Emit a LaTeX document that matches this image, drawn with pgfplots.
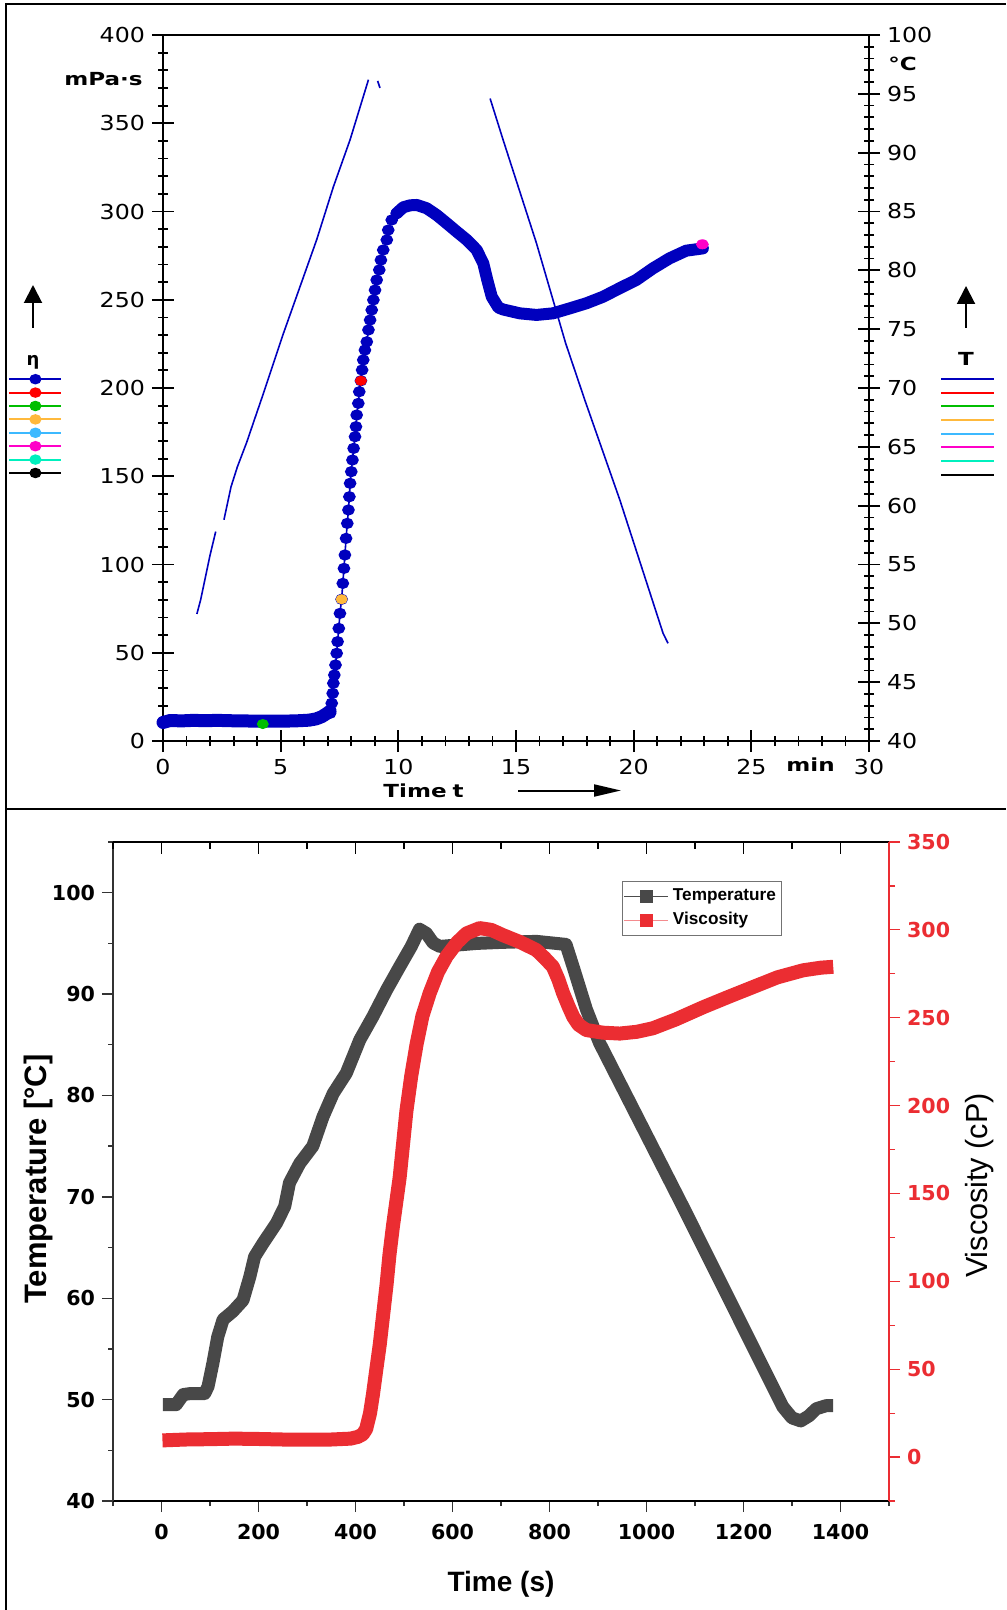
\documentclass[border=0pt]{standalone}
\usepackage{pgfplots}
\pgfplotsset{compat=1.18}
\usepackage{pgfplotstable}
\usepackage{fontspec}
\usetikzlibrary{arrows.meta}
\setmainfont{DejaVu Sans}
\newfontfamily\topnum{DejaVu Sans}[FakeStretch=1.15]
\newfontfamily\toplab{DejaVu Sans Bold}[FakeStretch=1.28]
\newfontfamily\botnum{DejaVu Sans Bold}
\newfontfamily\arialb{Liberation Sans Bold}
\newfontfamily\arial{Liberation Sans}

\definecolor{etablue}{RGB}{0,0,190}
\definecolor{tgray}{RGB}{72,72,72}
\definecolor{vred}{RGB}{235,45,50}
\definecolor{lgreen}{RGB}{0,190,0}
\definecolor{lorange}{RGB}{255,185,60}
\definecolor{lsky}{RGB}{60,185,255}
\definecolor{lmag}{RGB}{255,0,200}
\definecolor{lteal}{RGB}{0,240,190}

% ---- upper panel: temperature (degC) vs time (min) ----
\pgfplotstableread{
t T
1.44 50.8
1.6 52.0
1.8 53.9
2.0 55.8
2.24 57.8
nan nan
2.59 58.8
2.89 61.6
3.16 63.3
3.56 65.4
3.9 67.4
4.26 69.5
5.11 74.6
5.82 78.6
6.53 82.6
7.24 87.1
7.95 91.1
8.73 96.2
nan nan
9.12 96.1
9.22 95.5
nan nan
13.9 94.6
14.45 91.1
15.87 82.3
17.11 73.8
17.92 69.0
19.41 60.5
21.25 49.15
21.46 48.3
}\tempTop

% ---- upper panel: viscosity (mPa s) ----
\pgfplotstableread{
t eta
0 10.5
0.3 11.6
0.8 11.4
1.3 11.7
1.8 11.5
2.3 11.7
2.8 11.5
3.3 11.4
3.8 11.3
4.3 11.2
4.8 11.3
5.3 11.3
5.8 11.5
6.2 11.8
6.5 12.5
6.75 13.8
6.95 15.5
7.1 17
}\viscLow

\pgfplotstableread{
t eta
7.10 15.7
7.17 21.4
7.21 27.0
7.24 32.7
7.28 37.4
7.33 43.1
7.38 49.7
7.42 56.3
7.47 63.8
7.52 72.3
7.59 80.3
7.64 89.3
7.69 97.8
7.73 105.4
7.78 114.8
7.83 123.3
7.88 130.9
7.92 138.4
7.95 146
8.00 152.6
8.05 159.2
8.10 165.8
8.16 172.4
8.20 178.1
8.23 184.7
8.30 191.3
8.34 197.9
8.41 204.1
8.46 210.2
8.51 215.9
8.58 221.5
8.66 226.2
8.73 232.9
8.80 238.5
8.87 244.2
8.94 249.9
9.01 255.5
9.08 261.2
9.19 266.9
9.26 272.5
9.36 278.2
9.51 283.9
9.57 289.5
9.72 295.2
9.93 299
}\viscRise

\pgfplotstableread{
t eta
9.93 299
10.21 302.4
10.5 303.5
10.78 303.7
11.21 301.8
11.63 298
12.06 293.3
12.48 288.6
12.91 283.9
13.33 278.2
13.61 270.6
13.78 261.2
13.97 251.7
14.25 245.6
14.45 244.5
15.16 242.3
15.87 241.4
16.57 242.3
17.28 245.1
17.99 248
18.70 251.7
19.40 256.5
20.11 261.2
20.82 267.8
21.53 273.5
22.23 277.8
22.94 279.1
}\viscHigh

% ---- lower panel ----
\pgfplotstableread{
t T
3 49.5
30 49.5
45 50.5
60 50.6
89 50.6
96 51.3
106 53.6
116 56.2
127 57.9
147 58.7
168 59.8
182 62.1
192 64.1
209 65.4
237 67.4
254 69.05
264 71.4
285 73.3
312 75.0
333 77.9
354 80.2
381 82.2
409 85.5
436 87.8
464 90.4
491 92.7
515 94.7
532 96.4
546 96.0
560 95.05
574 94.7
650 95.0
700 95.1
773 95.2
834 94.9
850 92.5
876 88.5
903 85.2
1075 69.05
1281 49.3
1300 48.2
1318 47.9
1335 48.4
1350 49.1
1370 49.4
1385 49.4
}\tempBot

\pgfplotstableread{
t V
2 9.5
50 10
100 10.2
150 10.5
200 10.3
250 10
300 10
350 10
390 10.5
405 11.5
415 13
422 16
430 25
436 35.7
443 50
450 64
457 81
464 98
470 115
477 131
484 145
491 159
498 178
505 197
515 217
526 235
538 251
553 264
570 276
588 285
610 293
629 298
656 301
680 300
704 297
740 293
773 288.5
790 284
807 279
818 272
828 264
840 256
849 250.5
860 246
876 243
910 241.5
945 241
980 242
1013 244
1060 249
1117 256
1170 262
1220 267.5
1270 273
1323 277
1360 278.5
1385 279
}\viscBot

\begin{document}
\begin{tikzpicture}
\begin{scope}[x=0.5pt,y=-0.5pt]
  \path[use as bounding box] (0,0) rectangle (1006,1610);
  \draw[line width=1.3pt] (6,1610) -- (6,4) -- (1006,4);
  \draw[line width=1.3pt] (6,809) -- (1006,809);
  % upper panel texts and arrows
  \node[anchor=base east, inner sep=0pt, font=\toplab\fontsize{9}{10}\selectfont] at (143,86) {mPa·s};
  \node[anchor=base west, inner sep=0pt, font=\toplab\fontsize{9}{10}\selectfont] at (888,71) {°C};
  \node[anchor=base west, inner sep=0pt, font=\toplab\fontsize{9}{10}\selectfont] at (786,771) {min};
  \node[anchor=base west, inner sep=0pt, font=\toplab\fontsize{9}{10}\selectfont] at (383,797) {Time\,\,t};
  \node[anchor=base, inner sep=0pt, font=\botnum\fontsize{9}{10}\selectfont] at (33,365) {η};
  \node[anchor=base, inner sep=0pt, font=\toplab\fontsize{9}{10}\selectfont] at (966,365) {T};
  \draw[line width=1pt, -{Triangle[length=9pt, width=9pt]}] (33,328) -- (33,285);
  \draw[line width=1pt, -{Triangle[length=9pt, width=9pt]}] (966,328) -- (966,286);
  \draw[line width=1pt, -{Triangle[length=13.5pt, width=6pt]}] (518,790.5) -- (621,790.5);
\end{scope}

% ===== upper panel, left axis: viscosity =====
\begin{axis}[
    scale only axis, width=353pt, height=353pt,
    at={(81.5pt,-370.5pt)}, anchor=south west,
    xmin=0, xmax=30, ymin=0, ymax=400,
    xtick={0,5,...,30}, ytick={0,50,...,400},
    minor x tick num=4, minor y tick num=4,
    xtick pos=left, ytick pos=left,
    tick align=center, major tick length=11pt, minor tick length=5pt,
    axis line style={line width=1.2pt},
    tick style={black, line width=0.9pt},
    tick label style={font=\topnum\fontsize{10.3}{12}\selectfont},
    /pgf/number format/assume math mode=true,
    clip=false,
    legend style={draw=none, fill=none, inner sep=0pt, row sep=2.5pt,
        nodes={inner sep=0pt},
        at={(axis description cs:-0.2195,0.519)}, anchor=north west},
    legend cell align=left,
    legend image code/.code={\draw[mark repeat=2, mark phase=2, line width=1pt, #1]
        plot coordinates {(0pt,0pt) (13pt,0pt) (26pt,0pt)};},
]
\addplot[etablue, line width=6.5pt, line cap=round, line join=round, forget plot] table {\viscLow};
\addplot[etablue, line width=0.8pt, mark=*, mark size=2.4pt, mark options={xscale=1.15}, forget plot] table {\viscRise};
\addplot[etablue, line width=6pt, line cap=round, line join=round, forget plot] table {\viscHigh};
\addplot[only marks, mark=*, lgreen, mark size=2.3pt, mark options={xscale=1.2}, forget plot] coordinates {(4.24,9.6)};
\addplot[only marks, mark=*, lorange, mark size=2.3pt, mark options={xscale=1.2}, forget plot] coordinates {(7.59,80.3)};
\addplot[only marks, mark=*, red, mark size=2.3pt, mark options={xscale=1.2}, forget plot] coordinates {(8.41,204.1)};
\addplot[only marks, mark=*, lmag, mark size=2.3pt, mark options={xscale=1.3}, forget plot] coordinates {(22.92,281.4)};
\addlegendimage{etablue, mark=*, mark size=2.1pt, mark options={xscale=1.2}}\addlegendentry{\mbox{}}
\addlegendimage{red, mark=*, mark size=2.1pt, mark options={xscale=1.2}}\addlegendentry{\mbox{}}
\addlegendimage{lgreen, mark=*, mark size=2.1pt, mark options={xscale=1.2}}\addlegendentry{\mbox{}}
\addlegendimage{lorange, mark=*, mark size=2.1pt, mark options={xscale=1.2}}\addlegendentry{\mbox{}}
\addlegendimage{lsky, mark=*, mark size=2.1pt, mark options={xscale=1.2}}\addlegendentry{\mbox{}}
\addlegendimage{lmag, mark=*, mark size=2.1pt, mark options={xscale=1.2}}\addlegendentry{\mbox{}}
\addlegendimage{lteal, mark=*, mark size=2.1pt, mark options={xscale=1.2}}\addlegendentry{\mbox{}}
\addlegendimage{black, mark=*, mark size=2.1pt, mark options={xscale=1.2}}\addlegendentry{\mbox{}}
\end{axis}

% ===== upper panel, right axis: temperature =====
\begin{axis}[
    scale only axis, width=353pt, height=353pt,
    at={(81.5pt,-370.5pt)}, anchor=south west,
    xmin=0, xmax=30, ymin=40, ymax=100,
    axis x line=none, axis y line*=right,
    ytick={40,45,...,100}, minor y tick num=4,
    tick align=center, major tick length=11pt, minor tick length=5pt,
    y axis line style={-, line width=1.2pt},
    tick style={black, line width=0.9pt},
    tick label style={font=\topnum\fontsize{10.3}{12}\selectfont},
    /pgf/number format/assume math mode=true,
    legend style={draw=none, fill=none, inner sep=0pt, row sep=5.35pt,
        nodes={inner sep=0pt},
        at={(axis description cs:1.1006,0.5156)}, anchor=north west},
    legend cell align=left,
    legend image code/.code={\draw[line width=1pt, #1]
        plot coordinates {(0pt,0pt) (26.5pt,0pt)};},
]
\addplot[etablue, line width=0.8pt, unbounded coords=jump, forget plot] table {\tempTop};
\addlegendimage{etablue}\addlegendentry{\mbox{}}
\addlegendimage{red}\addlegendentry{\mbox{}}
\addlegendimage{lgreen}\addlegendentry{\mbox{}}
\addlegendimage{lorange}\addlegendentry{\mbox{}}
\addlegendimage{lsky}\addlegendentry{\mbox{}}
\addlegendimage{lmag}\addlegendentry{\mbox{}}
\addlegendimage{lteal}\addlegendentry{\mbox{}}
\addlegendimage{black}\addlegendentry{\mbox{}}
\end{axis}

% ===== lower panel, left axis: temperature =====
\begin{axis}[
    scale only axis, width=388pt, height=329.5pt,
    at={(56.5pt,-750.5pt)}, anchor=south west,
    xmin=-100, xmax=1500, ymin=40, ymax=105,
    axis x line*=bottom, axis y line*=left,
    xtick={0,200,...,1400}, minor xtick={-100,100,...,1500},
    ytick={40,50,...,100}, minor ytick={45,55,...,105},
    tick align=outside, major tick length=5.5pt, minor tick length=2.5pt,
    x axis line style={-, line width=1pt},
    y axis line style={-, black!80, line width=0.7pt},
    tick style={black!80, line width=0.7pt},
    tick label style={font=\botnum\fontsize{10.3}{12}\selectfont},
    xticklabel style={yshift=-2.5pt},
    /pgf/number format/assume math mode=true,
    /pgf/number format/1000 sep={},
    xlabel={Time (s)}, ylabel={Temperature [°C]},
    every axis x label/.style={at={(axis description cs:0.5,-0.127)}, anchor=center,
        font=\arialb\fontsize{14}{16}\selectfont},
    every axis y label/.style={at={(axis description cs:-0.0966,0.4886)}, anchor=center,
        rotate=90, font=\arialb\fontsize{15.5}{18}\selectfont},
]
\addplot[tgray, line width=6.5pt, line join=round, forget plot] table {\tempBot};
\end{axis}

% ===== lower panel, top ticks =====
\begin{axis}[
    scale only axis, width=388pt, height=329.5pt,
    at={(56.5pt,-750.5pt)}, anchor=south west,
    xmin=-100, xmax=1500, ymin=0, ymax=1,
    axis y line=none, axis x line*=top,
    xtick={0,200,...,1400}, minor xtick={-100,100,...,1500},
    xticklabels={},
    tick align=inside, major tick length=6pt, minor tick length=3.5pt,
    x axis line style={-, line width=1pt},
    tick style={black, line width=0.8pt},
]
\end{axis}

% ===== lower panel, right axis: viscosity =====
\begin{axis}[
    scale only axis, width=388pt, height=329.5pt,
    at={(56.5pt,-750.5pt)}, anchor=south west,
    xmin=-100, xmax=1500, ymin=-25, ymax=350,
    axis x line=none, axis y line*=right,
    ytick={0,50,...,350}, minor ytick={-25,25,...,325},
    tick align=outside, major tick length=5.5pt, minor tick length=3pt,
    y axis line style={-, vred, line width=0.6pt},
    tick style={vred, line width=0.6pt},
    yticklabel style={vred, font=\botnum\fontsize{10.3}{12}\selectfont},
    /pgf/number format/assume math mode=true,
    ylabel={Viscosity (cP)},
    every axis y label/.style={at={(axis description cs:1.1173,0.4788)}, anchor=center,
        rotate=90, font=\arial\fontsize{15.3}{18}\selectfont},
    legend style={at={(axis description cs:0.656,0.941)}, anchor=north west,
        draw=black!55, line width=0.5pt, fill=white,
        font=\arialb\fontsize{8.6}{10}\selectfont,
        inner xsep=0.5pt, inner ysep=1.5pt, nodes={inner sep=2.2pt},
        row sep=0pt, column sep=0pt},
    legend cell align=left,
    legend image code/.code={\draw[mark repeat=2, mark phase=2, #1]
        plot coordinates {(0pt,0pt) (11pt,0pt) (22pt,0pt)};},
]
\addplot[vred, line width=7pt, line join=round, forget plot] table {\viscBot};
\addlegendimage{black!70, line width=0.5pt, mark=square*, mark size=3pt, mark options={tgray}}
\addlegendentry{Temperature}
\addlegendimage{vred!55, line width=0.5pt, mark=square*, mark size=3pt, mark options={vred}}
\addlegendentry{Viscosity}
\end{axis}
\end{tikzpicture}
\end{document}
